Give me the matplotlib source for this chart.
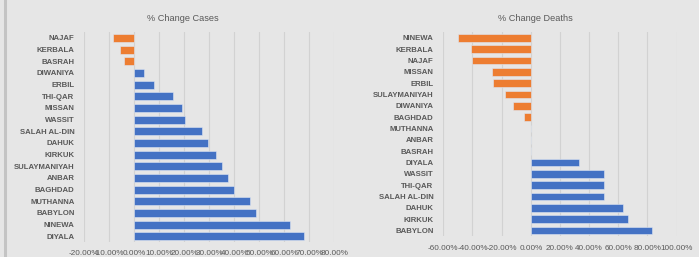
import matplotlib.pyplot as plt
from matplotlib.lines import Line2D
from matplotlib.ticker import PercentFormatter

# % change in cases
cases_regions = ["NAJAF", "KERBALA", "BASRAH", "DIWANIYA", "ERBIL", "THI-QAR", "MISSAN",
                 "WASSIT", "SALAH AL-DIN", "DAHUK", "KIRKUK", "SULAYMANIYAH", "ANBAR",
                 "BAGHDAD", "MUTHANNA", "BABYLON", "NINEWA", "DIYALA"]
cases_change = [-8.4, -5.6, -4.3, 4.0, 8.0, 15.6, 18.9, 20.3, 26.9, 29.6, 32.5, 34.9,
                37.3, 40.0, 46.4, 48.7, 62.1, 68.0]

# % change in deaths
deaths_regions = ["NINEWA", "KERBALA", "NAJAF", "MISSAN", "ERBIL", "SULAYMANIYAH", "DIWANIYA",
                  "BAGHDAD", "MUTHANNA", "ANBAR", "BASRAH", "DIYALA", "WASSIT", "THI-QAR",
                  "SALAH AL-DIN", "DAHUK", "KIRKUK", "BABYLON"]
deaths_change = [-50.0, -41.0, -40.5, -26.5, -25.6, -17.8, -12.3, -4.6, 0, 0, 0,
                 33.3, 50.0, 50.0, 50.0, 63.0, 66.7, 83.0]

bg = "#e6e6e6"
orange = "#ED7D31"
blue = "#4472C4"
txt = "#595959"

plt.rcParams["font.family"] = ["Liberation Sans", "DejaVu Sans"]
plt.rcParams["axes.unicode_minus"] = False

fig = plt.figure(figsize=(6.99, 2.57), dpi=100, facecolor=bg)
ax1 = fig.add_axes([0.1206, 0.058, 0.3577, 0.817])
ax2 = fig.add_axes([0.6342, 0.081, 0.3338, 0.794])


def draw(ax, names, vals, xlim, step, title, tx):
    ax.set_facecolor(bg)
    ys = list(range(len(names)))
    colors = [orange if v < 0 else blue for v in vals]
    ax.barh(ys, vals, height=0.68, color=colors, edgecolor="#dfe6f2", linewidth=0.4, zorder=3)
    ax.set_yticks(ys)
    ax.set_yticklabels(names, fontsize=5.6, color=txt, fontweight="bold")
    ax.set_ylim(len(names) - 0.5, -0.5)
    ax.set_xlim(*xlim)
    ticks = list(range(xlim[0], xlim[1] + 1, step))
    ax.set_xticks(ticks)
    ax.xaxis.set_major_formatter(PercentFormatter(decimals=2))
    ax.tick_params(axis="x", labelsize=5.9, colors=txt, length=0, pad=6)
    ax.tick_params(axis="y", length=0, pad=7)
    ax.grid(axis="x", color="#d2d2d2", linewidth=0.8, zorder=0)
    for s in ax.spines.values():
        s.set_visible(False)
    ax.set_title(title, fontsize=6.6, color=txt, pad=8, x=tx)


draw(ax1, cases_regions, cases_change, (-20, 80), 10, "% Change Cases", 0.395)
draw(ax2, deaths_regions, deaths_change, (-60, 100), 20, "% Change Deaths", 0.393)

fig.add_artist(Line2D([0.0065, 0.0065], [0, 1], color="#c4c4c4", linewidth=2.2))

fig.savefig("out.png", dpi=100, facecolor=bg)
